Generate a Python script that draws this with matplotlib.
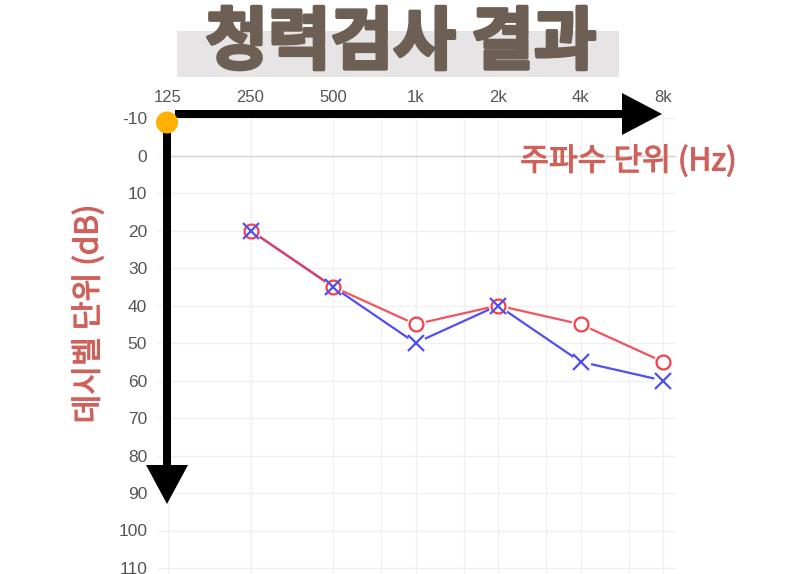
import matplotlib
matplotlib.use("Agg")
import matplotlib.pyplot as plt
import matplotlib.patheffects as pe
from matplotlib.patches import Polygon, Rectangle, Circle

plt.rcParams['font.family'] = ['Noto Sans CJK KR', 'DejaVu Sans']

main_freqs = [125, 250, 500, 1000, 2000, 4000, 8000]
freq_labels = ['125', '250', '500', '1k', '2k', '4k', '8k']
minor_freqs = [750, 1500, 3000, 6000]
db_ticks = list(range(-10, 111, 10))
series_freqs = [250, 500, 1000, 2000, 4000, 8000]
right_ear = [20, 35, 45, 40, 45, 55]
left_ear = [20, 35, 50, 40, 55, 60]

W, H = 795, 574
fig = plt.figure(figsize=(W / 100, H / 100), dpi=100, facecolor='white')

L, R, T, B = 168, 676, 118, 574
ax = fig.add_axes([L / W, 1 - B / H, (R - L) / W, (B - T) / H])
ax.set_xscale('log', base=2)
ax.set_xlim(125, 125 * 2 ** ((R - L) / 82.5))
ax.set_ylim(10 * (B - 155.5) / 37.5, -10)
for s in ax.spines.values():
    s.set_visible(False)
ax.xaxis.tick_top()
ax.set_xticks(main_freqs)
ax.set_xticklabels(freq_labels, family='Liberation Sans')
ax.set_xticks(minor_freqs, minor=True)
ax.set_xticklabels([], minor=True)
ax.tick_params(axis='x', which='minor', length=0)
ax.set_yticks(db_ticks)
ax.set_yticklabels([str(v) for v in db_ticks], family='Liberation Sans')
ax.tick_params(axis='x', which='major', length=7, color='#efefef', labelsize=12,
               labelcolor='#555555', pad=2)
ax.tick_params(axis='y', length=8, color='#efefef', labelsize=12.5, labelcolor='#555555', pad=7)
ax.grid(True, which='both', color='#f0f0f0', linewidth=1.0)
ax.set_axisbelow(True)
ax.axhline(0, color='#d4d4d4', linewidth=1.0, zorder=1)

ax.plot(series_freqs, left_ear, color='#4f4ff5', linewidth=1.6, zorder=3)
ax.plot(series_freqs, right_ear, color='#f2404c', linewidth=1.6, alpha=0.9, zorder=3.1)
ax.plot(series_freqs, right_ear, ls='none', marker='o', ms=14, mfc='white', mec='none', zorder=3.2)
ax.plot(series_freqs, left_ear, ls='none', marker='o', ms=14, mfc='white', mec='none', zorder=3.2)
ax.plot(series_freqs, right_ear, ls='none', color='#f2404c', marker='o', ms=10,
        mfc='none', mew=1.6, zorder=3.3)
ax.plot(series_freqs, left_ear, ls='none', color='#4f4ff5', marker='x', ms=11,
        mew=1.6, zorder=3.4)

ov = fig.add_axes([0, 0, 1, 1], facecolor='none')
ov.set_xlim(0, W)
ov.set_ylim(H, 0)
ov.axis('off')
ov.add_patch(Rectangle((177, 31), 442, 46, color='#e6e4e4', lw=0, zorder=1))
ov.text(401, 44, '청력검사 결과', fontsize=49, fontweight='black', color='#6d5f53',
        ha='center', va='center', zorder=2,
        path_effects=[pe.withStroke(linewidth=2.5, foreground='#6d5f53')])
ov.add_patch(Rectangle((175, 110), 450, 8, color='black', lw=0, zorder=3))
ov.add_patch(Polygon([(622, 93), (662, 114), (622, 135)], color='black', lw=0, zorder=3))
ov.add_patch(Rectangle((163, 123), 8, 345, color='black', lw=0, zorder=3))
ov.add_patch(Polygon([(146, 465), (188, 465), (167, 504)], color='black', lw=0, zorder=3))
ov.add_patch(Circle((167, 122.5), 11, color='#ffb000', lw=0, zorder=4))
halo = [pe.withStroke(linewidth=0.8, foreground='#d0605a')]
ov.text(628.5, 161, '주파수 단위 (Hz)', fontsize=22.5, color='#d0605a',
        ha='center', va='center', zorder=5, path_effects=halo)
ov.text(88, 314, '데시벨 단위 (dB)', fontsize=22.5, color='#d0605a',
        rotation=90, ha='center', va='center', zorder=5, path_effects=halo)

fig.savefig('out.png', dpi=100, facecolor='white')
